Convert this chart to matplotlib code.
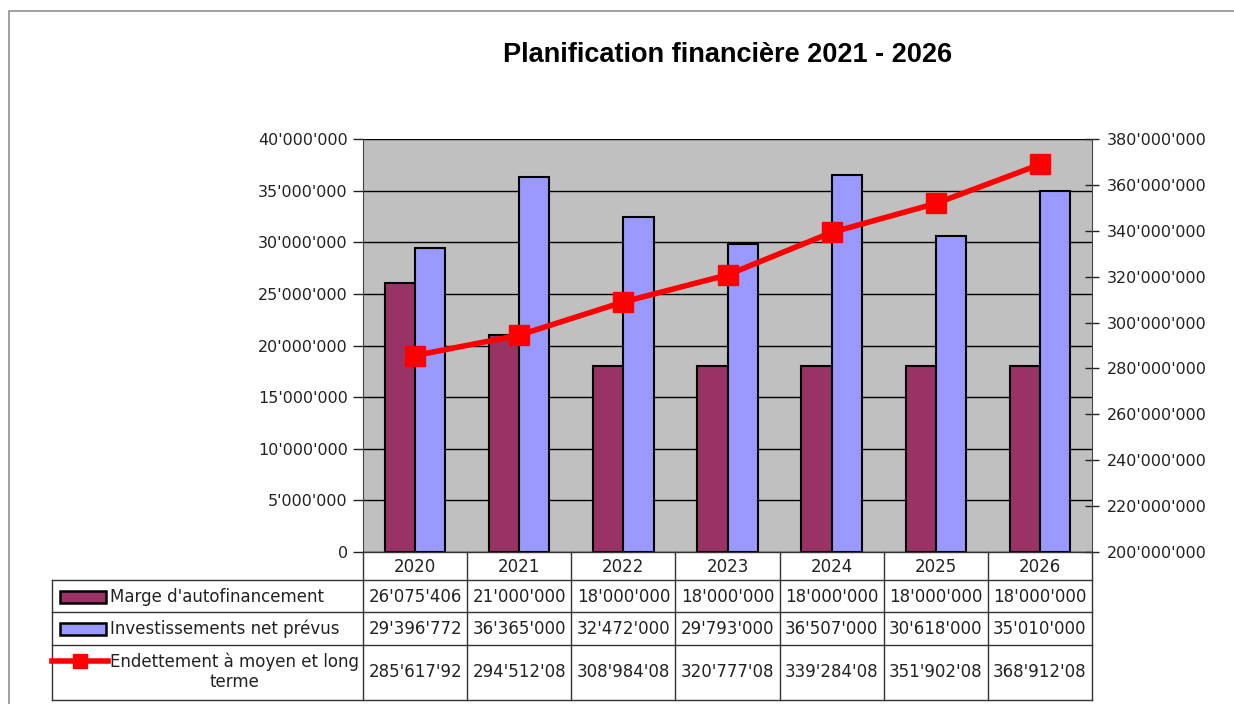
import matplotlib.pyplot as plt
import numpy as np
from matplotlib.patches import Rectangle
from matplotlib.lines import Line2D
from matplotlib.ticker import FuncFormatter, MultipleLocator

# data
years = ["2020", "2021", "2022", "2023", "2024", "2025", "2026"]
marge = [26075406, 21000000, 18000000, 18000000, 18000000, 18000000, 18000000]
invest = [29396772, 36365000, 32472000, 29793000, 36507000, 30618000, 35010000]
dette = [285617920, 294512080, 308984080, 320777080, 339284080, 351902080, 368912080]

series_names = ["Marge d'autofinancement", "Investissements net prévus",
                "Endettement à moyen et long\nterme"]
title = "Planification financière 2021 - 2026"

c_marge = "#993366"
c_invest = "#9999ff"
c_dette = "#ff0000"


def fmt(v, pos=None):
    return f"{int(round(v)):,}".replace(",", "'")


W, H = 1234, 704
fig = plt.figure(figsize=(W / 100, H / 100), dpi=100)
fig.patch.set_facecolor("white")


def fx(px):
    return px / W


def fy(py):
    return 1 - py / H


# thin frame around the chart
fig.add_artist(Rectangle((fx(9), fy(720)), fx(1240) - fx(9), fy(11) - fy(720),
                         transform=fig.transFigure, fill=False,
                         edgecolor="#909090", lw=1.2))

left, right, top, bottom = 363, 1092, 139, 552
ax = fig.add_axes([fx(left), fy(bottom), fx(right) - fx(left), fy(top) - fy(bottom)])
ax.set_facecolor("#c0c0c0")

x = np.arange(len(years))
bw = 0.29
ax.bar(x - bw / 2, marge, bw, color=c_marge, edgecolor="black", lw=1.5, zorder=3)
ax.bar(x + bw / 2, invest, bw, color=c_invest, edgecolor="black", lw=1.5, zorder=3)
ax.set_xlim(-0.5, len(years) - 0.5)
ax.set_ylim(0, 40_000_000)
ax.yaxis.set_major_locator(MultipleLocator(5_000_000))
ax.yaxis.set_major_formatter(FuncFormatter(fmt))
ax.grid(axis="y", color="black", lw=1.0, zorder=1)
ax.set_axisbelow(True)
ax.set_xticks([])
ax.tick_params(axis="y", labelsize=11.5, length=7, width=1.0, pad=4, colors="#222222")
for s in ["top", "right", "bottom"]:
    ax.spines[s].set_visible(False)
ax.spines["left"].set_color("#444444")

ax2 = ax.twinx()
ax2.plot(x, dette, color=c_dette, lw=4, marker="s", markersize=14, zorder=5)
ax2.set_ylim(200_000_000, 380_000_000)
ax2.yaxis.set_major_locator(MultipleLocator(20_000_000))
ax2.yaxis.set_major_formatter(FuncFormatter(fmt))
ax2.tick_params(axis="y", labelsize=11.5, length=10, width=1.0, direction="inout",
                pad=6, colors="#222222")
for s in ["top", "left", "bottom"]:
    ax2.spines[s].set_visible(False)
ax2.spines["right"].set_color("#444444")

fig.text(fx(728), fy(55), title, ha="center", va="center",
         fontsize=19.5, fontweight="bold", family="Liberation Sans")

# data table below the plot
col_w = (right - left) / len(years)
col_x = [left + i * col_w for i in range(len(years) + 1)]
row_y = [552, 580, 612, 645, 700]
tab_left = 52
lc = "#333333"


def hline(y, x0, x1):
    fig.add_artist(Line2D([fx(x0), fx(x1)], [fy(y), fy(y)], color=lc, lw=1.0,
                          transform=fig.transFigure))


def vline(xp, y0, y1):
    fig.add_artist(Line2D([fx(xp), fx(xp)], [fy(y0), fy(y1)], color=lc, lw=1.0,
                          transform=fig.transFigure))


hline(row_y[0], left, right)
for y in row_y[1:]:
    hline(y, tab_left, right)
vline(tab_left, row_y[1], row_y[-1])
for xp in col_x:
    vline(xp, row_y[0], row_y[-1])

tfs = 12
for i, yr in enumerate(years):
    cx = (col_x[i] + col_x[i + 1]) / 2
    fig.text(fx(cx), fy(567), yr, ha="center", va="center", fontsize=tfs, color="#222222")
    fig.text(fx(cx), fy(597), fmt(marge[i]), ha="center", va="center", fontsize=tfs, color="#222222")
    fig.text(fx(cx), fy(629), fmt(invest[i]), ha="center", va="center", fontsize=tfs, color="#222222")
    fig.text(fx(cx), fy(672), fmt(dette[i])[:10], ha="center", va="center", fontsize=tfs, color="#222222")

# legend keys in the row labels
for ky, col in [(597, c_marge), (629, c_invest)]:
    fig.add_artist(Rectangle((fx(60), fy(ky + 6)), fx(106) - fx(60), fy(ky - 6) - fy(ky + 6),
                             transform=fig.transFigure, facecolor=col,
                             edgecolor="black", lw=1.8))
fig.add_artist(Line2D([fx(52), fx(108)], [fy(661), fy(661)], color=c_dette, lw=4,
                      transform=fig.transFigure))
fig.add_artist(Line2D([fx(80)], [fy(661)], color=c_dette, marker="s", markersize=10,
                      transform=fig.transFigure))

fig.text(fx(110), fy(597), series_names[0], ha="left", va="center", fontsize=tfs, color="#222222")
fig.text(fx(110), fy(629), series_names[1], ha="left", va="center", fontsize=tfs, color="#222222")
fig.text(fx(234), fy(672), series_names[2], ha="center", va="center", fontsize=tfs,
         multialignment="center", color="#222222", linespacing=1.15)

fig.savefig("out.png", dpi=100)
